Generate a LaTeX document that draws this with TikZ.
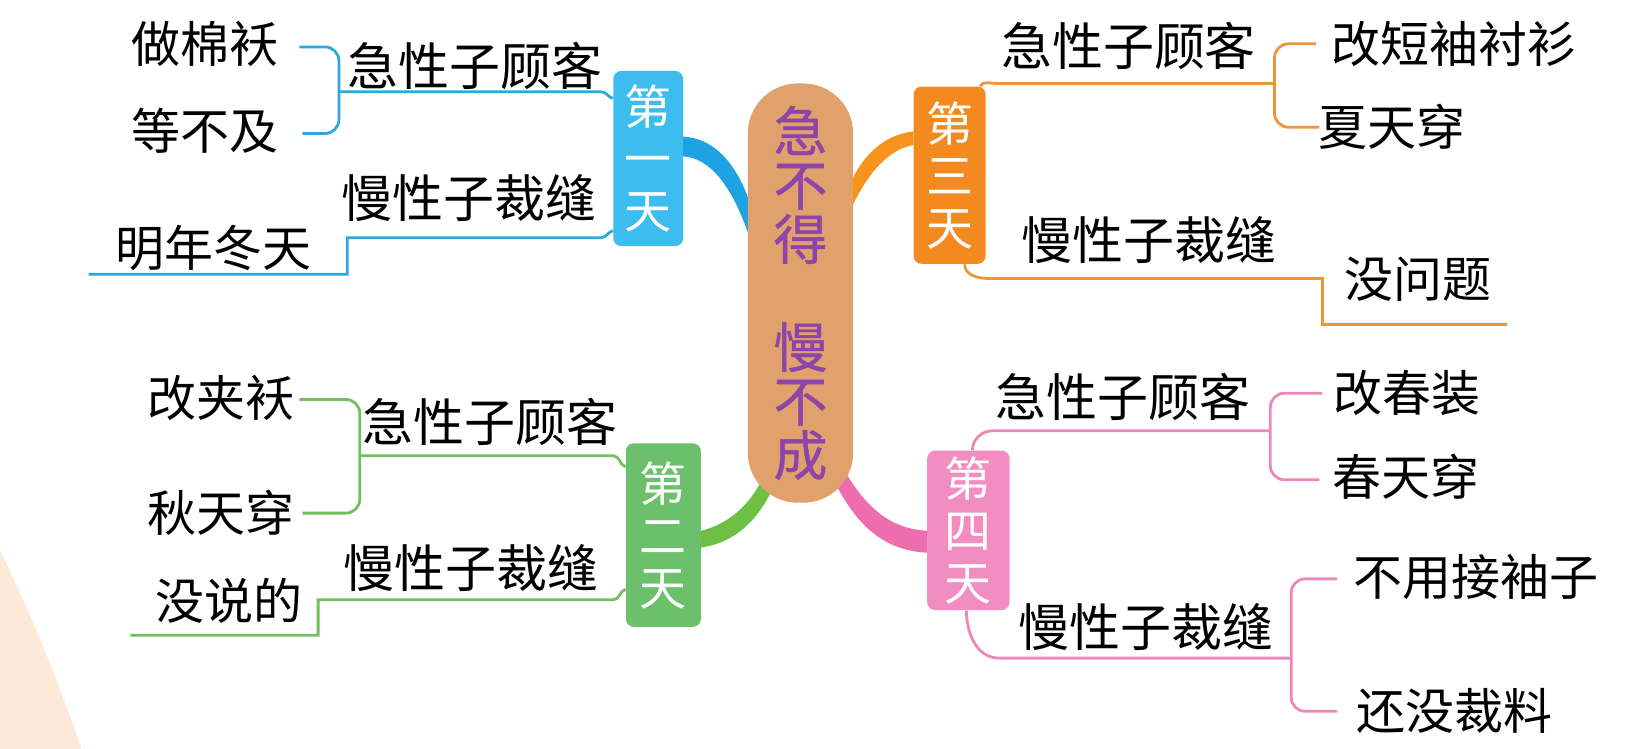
\documentclass[tikz,border=0pt]{standalone}
\usepackage{fontspec}
\newfontfamily\cjk{Noto Sans CJK SC}
\newfontfamily\cjkb[FakeBold=0.8]{Noto Sans CJK SC}
\definecolor{bluebox}{HTML}{3DBCF0}
\definecolor{blueline}{HTML}{2BA8DE}
\definecolor{blueband}{HTML}{1DA2E2}
\definecolor{greenbox}{HTML}{6CC06B}
\definecolor{greenline}{HTML}{72BF5E}
\definecolor{greenband}{HTML}{6DC044}
\definecolor{orangebox}{HTML}{F28A1F}
\definecolor{orangeline}{HTML}{F0953A}
\definecolor{orangeband}{HTML}{F7941D}
\definecolor{pinkbox}{HTML}{F28DC2}
\definecolor{pinkline}{HTML}{EC88B9}
\definecolor{pinkband}{HTML}{EE6DAF}
\definecolor{hubfill}{HTML}{E0A16C}
\definecolor{hubtext}{HTML}{8E45AA}
\definecolor{peach}{HTML}{FDE9D8}
\begin{document}
\begin{tikzpicture}[x=0.5215pt,y=-0.5215pt,
  leaf/.style={font=\cjk\fontsize{24.5}{26}\selectfont, text=black, inner sep=0pt},
  mid/.style={font=\cjk\fontsize{25.5}{27}\selectfont, text=black, inner sep=0pt},
  daybox/.style={rounded corners=4pt, text=white, align=center, inner sep=0pt, font=\cjk\fontsize{23.5}{26}\selectfont},
  thinline/.style={line width=1.4pt},
  bracket/.style={line width=1.4pt, rounded corners=7pt},
]
\useasboundingbox (0,0) rectangle (1568.6,718.1);
\fill[peach] (0,528) .. controls (28,585) and (55,650) .. (78,718.1) -- (0,718.1) -- cycle;

% bands from hub to day boxes
\fill[blueband] (655,131) .. controls (692,133) and (716,170) .. (726,222) -- (726,252) .. controls (712,200) and (690,152) .. (655,150) -- cycle;
\fill[orangeband] (876,126) .. controls (846,129) and (822,152) .. (810,190) -- (810,215) .. controls (826,172) and (850,143) .. (876,139) -- cycle;
\fill[greenband] (672,509) .. controls (700,502) and (722,482) .. (734,452) -- (744,462) .. controls (728,498) and (706,520) .. (672,525) -- cycle;
\fill[pinkband] (806,445) .. controls (826,480) and (848,507) .. (890,509) -- (890,530) .. controls (844,528) and (820,500) .. (800,462) -- cycle;

% hub
\node[fill=hubfill, rounded corners=25pt, minimum width=52.67pt, minimum height=209.64pt, inner sep=0pt,
      text=hubtext, align=center, font=\cjkb\fontsize{27}{27}\selectfont] (hub) at (767.5,281)
      {急\\不\\得\\[27pt]慢\\不\\成};

% day boxes
\node[daybox, fill=bluebox, minimum width=34.94pt, minimum height=87.61pt] (d1) at (621.5,152) {第\\一\\天};
\node[daybox, fill=greenbox, minimum width=37.55pt, minimum height=91.78pt] (d2) at (636,513) {第\\二\\天};
\node[daybox, fill=orangebox, minimum width=35.98pt, minimum height=88.66pt] (d3) at (910.5,168) {第\\三\\天};
\node[daybox, fill=pinkbox, minimum width=41.2pt, minimum height=79.79pt] (d4) at (928.5,508.5) {第\\四\\天};

% Day 1 texts
\node[mid] (a1) at (455,63) {急性子顾客};
\node[leaf] (a1a) at (197,42) {做棉袄};
\node[leaf] (a1b) at (197,125) {等不及};
\node[mid] (b1) at (450,190) {慢性子裁缝};
\node[leaf] (b1a) at (205,238) {明年冬天};
% Day 2 texts
\node[mid] (a2) at (470,405) {急性子顾客};
\node[leaf] (a2a) at (212,382) {改夹袄};
\node[leaf] (a2b) at (212,492) {秋天穿};
\node[mid] (b2) at (452,545) {慢性子裁缝};
\node[leaf] (b2a) at (220,576) {没说的};
% Day 3 texts
\node[mid] (a3) at (1082,44) {急性子顾客};
\node[leaf] (a3a) at (1394,42) {改短袖衬衫};
\node[leaf] (a3b) at (1335,122) {夏天穿};
\node[mid] (b3) at (1102,230) {慢性子裁缝};
\node[leaf] (b3a) at (1360,268) {没问题};
% Day 4 texts
\node[mid] (a4) at (1077,381) {急性子顾客};
\node[leaf] (a4a) at (1349,377) {改春装};
\node[leaf] (a4b) at (1348,457) {春天穿};
\node[mid] (b4) at (1099,601) {慢性子裁缝};
\node[leaf] (b4a) at (1415,553) {不用接袖子};
\node[leaf] (b4b) at (1395,682) {还没裁料};

% Day 1 lines
\draw[thinline, blueline] ([yshift=-14pt]d1.north west) to[out=160,in=0] (576,88) -- (325,88);
\draw[bracket, blueline] (287,45) -- (325,45) -- (325,128) -- (290,128);
\draw[thinline, blueline] ([yshift=8pt]d1.south west) to[out=-160,in=0] (576,228) -- (333,228) -- (333,263) -- (85,263);
% Day 2 lines
\draw[thinline, greenline] ([yshift=-12pt]d2.north west) to[out=160,in=0] (588,437) -- (345,437);
\draw[bracket, greenline] (287,383) -- (345,383) -- (345,492) -- (290,492);
\draw[thinline, greenline] ([yshift=19pt]d2.south west) to[out=-160,in=0] (588,575) -- (305,575) -- (305,609) -- (125,609);
% Day 3 lines
\draw[thinline, orangeline] ([xshift=-3pt]d3.north east) to[out=60,in=180] (955,80) -- (1222,80);
\draw[bracket, orangeline] (1262,42) -- (1222,42) -- (1222,122) -- (1265,122);
\draw[thinline, orangeline] ([xshift=7.5pt]d3.south) to[out=-90,in=180] (948,267) -- (1268,267) -- (1268,311) -- (1445,311);
% Day 4 lines
\draw[thinline, pinkline] ([xshift=2pt]d4.north) to[out=90,in=180] (952,413) -- (1218,413);
\draw[bracket, pinkline] (1268,377) -- (1218,377) -- (1218,460) -- (1265,460);
\draw[thinline, pinkline] ([xshift=-1pt]d4.south) to[out=-90,in=180] (958,631) -- (1238,631);
\draw[bracket, pinkline] (1282,555) -- (1238,555) -- (1238,682) -- (1282,682);
\end{tikzpicture}
\end{document}
